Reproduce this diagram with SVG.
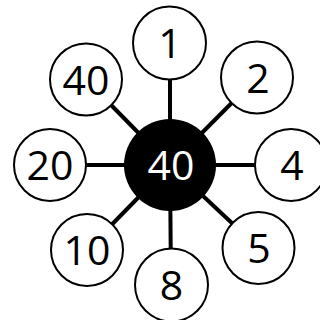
<svg xmlns="http://www.w3.org/2000/svg" width="320" height="320" viewBox="0 0 320 320">
<style>
.n{fill:#fff;stroke:#000;stroke-width:2}
.c{fill:#000}
.e{stroke:#000;stroke-width:4}
text{font-family:"Open Sans","DejaVu Sans",sans-serif;font-size:41px;text-anchor:middle;fill:#000}
.w{fill:#fff}
</style>
<rect width="320" height="320" fill="#fff"/>
<g id="connectors">
<line class="e" x1="170" y1="165" x2="170" y2="43"/>
<line class="e" x1="170" y1="165" x2="257" y2="77.5"/>
<line class="e" x1="170" y1="165" x2="291" y2="165"/>
<line class="e" x1="170" y1="165" x2="258.5" y2="248"/>
<line class="e" x1="170" y1="165" x2="171" y2="285"/>
<line class="e" x1="170" y1="165" x2="87" y2="250"/>
<line class="e" x1="170" y1="165" x2="50" y2="165"/>
<line class="e" x1="170" y1="165" x2="86" y2="79.5"/>
</g>
<g id="center"><circle class="c" cx="170" cy="165" r="46"/><text class="w" x="171" y="180">40</text></g>
<g id="n1"><circle class="n" cx="169.5" cy="43" r="36.5"/><text x="170" y="58">1</text></g>
<g id="n2"><circle class="n" cx="257" cy="77.5" r="36"/><text x="258" y="92.5">2</text></g>
<g id="n4"><circle class="n" cx="291" cy="165" r="36"/><text x="292" y="180">4</text></g>
<g id="n5"><circle class="n" cx="258.5" cy="248" r="36"/><text x="259" y="263">5</text></g>
<g id="n8"><circle class="n" cx="171.5" cy="285" r="36.5"/><text x="171.5" y="300">8</text></g>
<g id="n10"><circle class="n" cx="87" cy="250" r="36"/><text x="87" y="265">10</text></g>
<g id="n20"><circle class="n" cx="50" cy="165" r="36"/><text x="50" y="180">20</text></g>
<g id="n40"><circle class="n" cx="86" cy="79.5" r="36"/><text x="86" y="95">40</text></g>
</svg>
